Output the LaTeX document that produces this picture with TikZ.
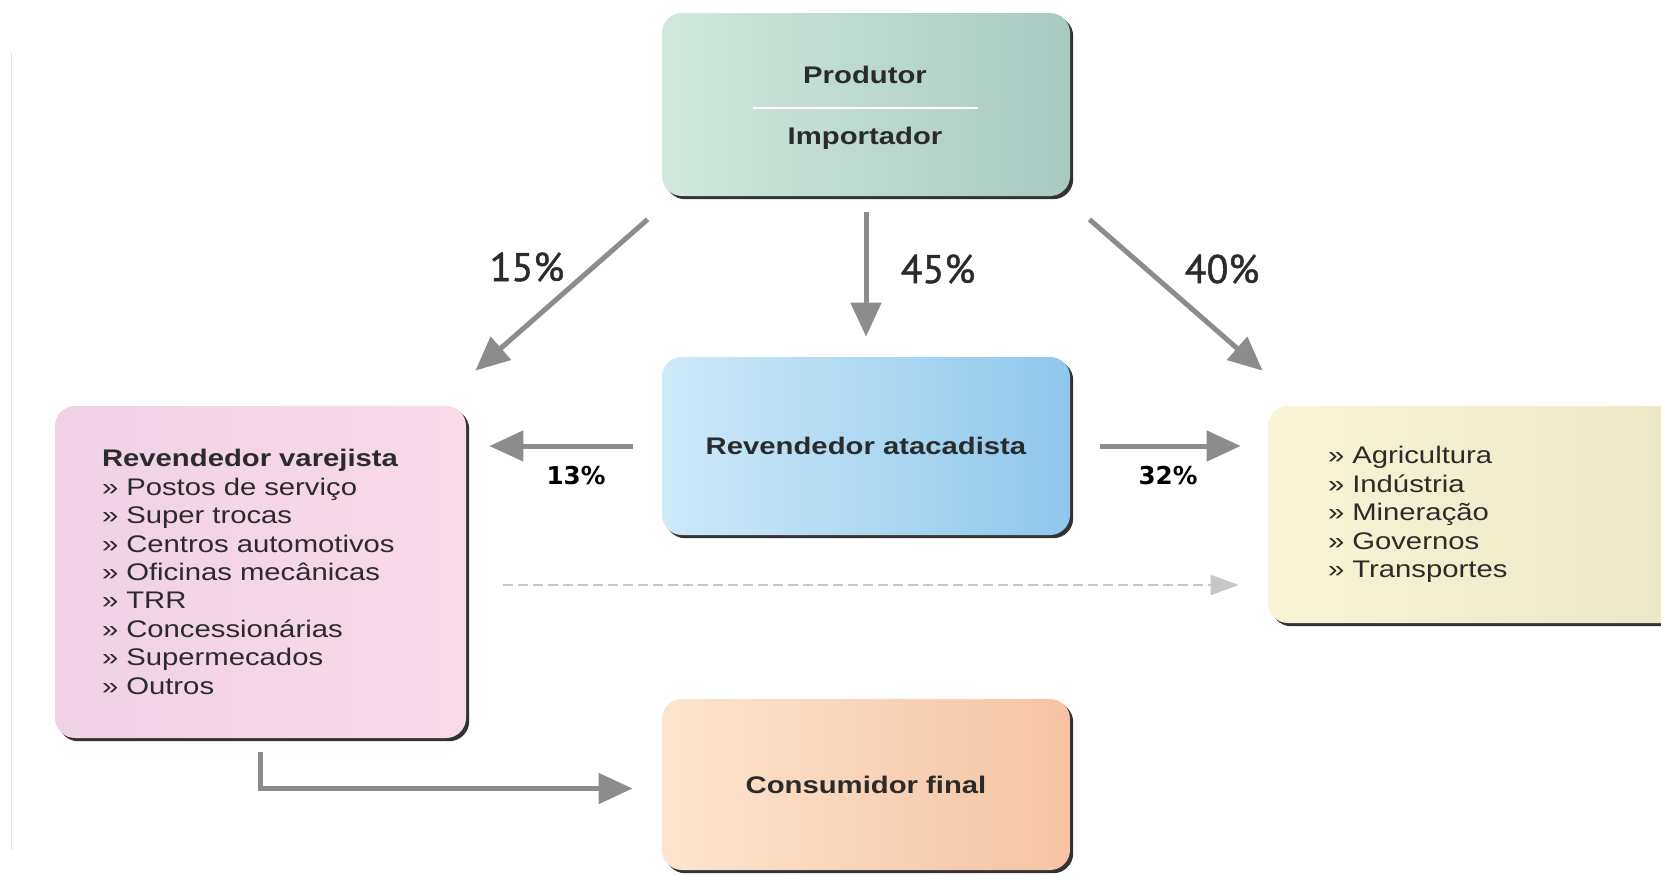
\documentclass[tikz,border=0pt]{standalone}
\usepackage{fontspec}
\setmainfont{Liberation Sans}[FakeStretch=1.22]
\newfontfamily\pctfont{PT Sans}[FakeBold=1.2]
\newfontfamily\smallpctfont{DejaVu Sans}
\usetikzlibrary{arrows.meta,shadows}
\definecolor{prodL}{HTML}{D2E8DD}
\definecolor{prodR}{HTML}{A8CAC1}
\definecolor{atacL}{HTML}{CDEAF8}
\definecolor{atacR}{HTML}{90C7EC}
\definecolor{varejL}{HTML}{EFD2E6}
\definecolor{varejR}{HTML}{F8DAE9}
\definecolor{setL}{HTML}{F8F4D4}
\definecolor{setR}{HTML}{ECE8C6}
\definecolor{consL}{HTML}{FCE5CE}
\definecolor{consR}{HTML}{F6C3A3}
\definecolor{arrowgray}{HTML}{8C8C8C}
\definecolor{dashgray}{HTML}{C6C6C6}
\definecolor{textgray}{HTML}{2B2B2B}
\definecolor{edgecyan}{HTML}{CDE9E9}
\begin{document}
\begin{tikzpicture}[x=0.5pt,y=-0.5pt,
  box/.style={rounded corners=10pt,minimum width=204pt,minimum height=89pt,inner sep=0pt,
    text=textgray,font=\fontsize{12pt}{14.2pt}\selectfont,
    drop shadow={shadow xshift=1.6pt,shadow yshift=-1.6pt,fill=black!80,opacity=1}},
  boxtext/.style={text=textgray,font=\fontsize{12pt}{14.2pt}\selectfont\bfseries},
  listbox/.style={box,align=left},
  flow/.style={draw=arrowgray,line width=2.5pt,-{Triangle[length=17pt,width=15pt]}},
  dashflow/.style={draw=dashgray,line width=1pt,dash pattern=on 5pt off 2.5pt,
    -{Triangle[length=14pt,width=10pt]}},
  bigpct/.style={text=textgray,font=\fontsize{20pt}{24pt}\pctfont},
  smallpct/.style={text=black,font=\fontsize{12.3pt}{14pt}\smallpctfont\bfseries}]
\path[fill=white,use as bounding box] (0,0) rectangle (1661,875);
\draw[edgecyan,line width=0.5pt] (11,53) -- (11,850);

% boxes
\node[box,left color=prodL,right color=prodR,minimum height=91.5pt] (prod) at (866,104.5) {};
\node[boxtext] (produtor) at (865,75) {Produtor};
\node[boxtext] (importador) at (865,138) {Importador};
\draw[white,line width=1pt] (753,108) -- (978,108);

\node[box,left color=atacL,right color=atacR,font=\fontsize{12pt}{14.2pt}\selectfont\bfseries] (atac) at (866,446) {Revendedor atacadista};

\node[listbox,left color=varejL,right color=varejR,text width=158.5pt,inner xsep=23.5pt,
  minimum height=166pt] (varej) at (260.5,572)
  {\textbf{Revendedor varejista}\\
   » Postos de serviço\\
   » Super trocas\\
   » Centros automotivos\\
   » Oficinas mecânicas\\
   » TRR\\
   » Concessionárias\\
   » Supermecados\\
   » Outros};

\node[listbox,left color=setL,right color=setR,text width=156pt,inner xsep=30pt,
  minimum height=108.5pt] (setores) at (1484,514.5)
  {» Agricultura\\
   » Indústria\\
   » Mineração\\
   » Governos\\
   » Transportes};

\node[box,left color=consL,right color=consR,minimum height=85.5pt,font=\fontsize{12pt}{14.2pt}\selectfont\bfseries] (consum) at (866,784.5) {Consumidor final};

% arrows
\draw[flow] ([shift={(-14,23)}]prod.south west) -- ([shift={(9,-35)}]varej.north east);
\draw[flow,shorten <=8pt,shorten >=10pt] (prod.south) -- (atac.north);
\draw[flow] ([shift={(19,23)}]prod.south east) -- ([shift={(-5,-35)}]setores.north west);
\draw[flow,shorten <=14.5pt,shorten >=11.5pt] (atac.west) -- (atac.west -| varej.east);
\draw[flow,shorten <=15pt,shorten >=13.5pt] (atac.east) -- (atac.east -| setores.west);
\draw[dashflow,shorten <=18.5pt,shorten >=14.5pt] ([yshift=-6.5pt]varej.east) -- ([yshift=-6.5pt]varej.east -| setores.west);
\draw[flow,shorten <=7pt,shorten >=14.5pt] (varej.south) |- ([yshift=-2pt]consum.west);

% percentages
\foreach \p/\px/\py in {15/527/267,45/938/269,40/1222/269}
  \node[bigpct] (pct\p) at (\px,\py) {\p\%};
\foreach \p/\px in {13/576,32/1168}
  \node[smallpct] (pct\p) at (\px,476) {\p\%};
\end{tikzpicture}
\end{document}
